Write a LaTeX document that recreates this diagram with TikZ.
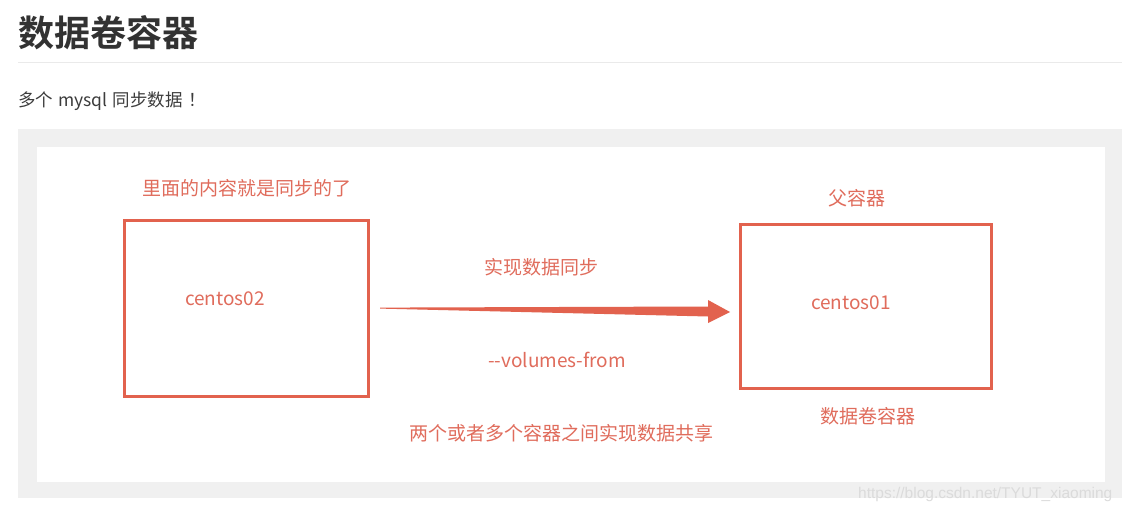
\documentclass[tikz,border=0pt]{standalone}
\usepackage{fontspec}
\setmainfont{Noto Sans CJK SC}
\newfontfamily\cjk{Noto Sans CJK SC}
\newfontfamily\cjkbold{Noto Sans CJK SC Bold}
\newfontfamily\wmfont{Liberation Sans}
\definecolor{boxred}{RGB}{226,98,78}
\definecolor{txtred}{RGB}{224,108,92}
\definecolor{bandgray}{RGB}{240,240,240}
\definecolor{rulegray}{RGB}{234,234,234}
\definecolor{bodytxt}{RGB}{60,60,60}
\definecolor{titletxt}{RGB}{50,50,50}
\tikzset{
  redlabel/.style={text=txtred, font=\fontsize{19}{22}\selectfont\cjk, inner sep=0pt},
  container/.style={draw=boxred, line width=3pt, fill=white},
}
\begin{document}
\begin{tikzpicture}[x=1pt,y=-1pt]
\useasboundingbox[fill=white] (0,0) rectangle (1127,513);
% header
\node[anchor=west, inner sep=0pt, text=titletxt, font=\fontsize{36}{40}\selectfont\cjkbold] (title) at (18,33) {数据卷容器};
\draw[rulegray, line width=1pt] (18,63) -- (1122,63);
\node[anchor=west, inner sep=0pt, text=bodytxt, font=\fontsize{17.5}{20}\selectfont\cjk] (sub) at (18,101) {多个\hspace{5pt}mysql\hspace{5pt}同步数据\hspace{6pt}！};
% image area
\fill[bandgray] (18,129) rectangle (1122,498);
\fill[white] (37,147) rectangle (1105,482);
% boxes
\draw[container] (124,221) rectangle (368,396);
\node[inner sep=0pt] (left) at (246,308.5) {};
\draw[container] (740,225) rectangle (991,388);
\node[inner sep=0pt] (right) at (865.5,306.5) {};
% labels
\node[redlabel] (top1) at (247,188) {里面的内容就是同步的了};
\node[redlabel, anchor=west] (c2) at (185,299) {centos02};
\node[redlabel, anchor=west] (c1) at (811,303) {centos01};
\node[redlabel] (parent) at (857,198) {父容器};
\node[redlabel] (vol) at (868,416) {数据卷容器};
\node[redlabel] (sync) at (541,267) {实现数据同步};
\node[redlabel] (vf) at (557,360) {-{}-volumes-from};
\node[redlabel] (share) at (561,433) {两个或者多个容器之间实现数据共享};
% tapered arrow
\coordinate (as) at (380,307.6);
\coordinate (ae) at (730,312);
\fill[boxred] (as) -- (708,306.5) -- (708,300) -- (ae) -- (708,323) -- (708,316.5) -- (380,308.6) -- cycle;
% watermark
\node[anchor=west, inner sep=0pt, text=white!86!black, font=\fontsize{15.5}{17}\selectfont\wmfont] (wm) at (858,494) {https://blog.csdn.net/TYUT\_xiaoming};
\end{tikzpicture}
\end{document}
